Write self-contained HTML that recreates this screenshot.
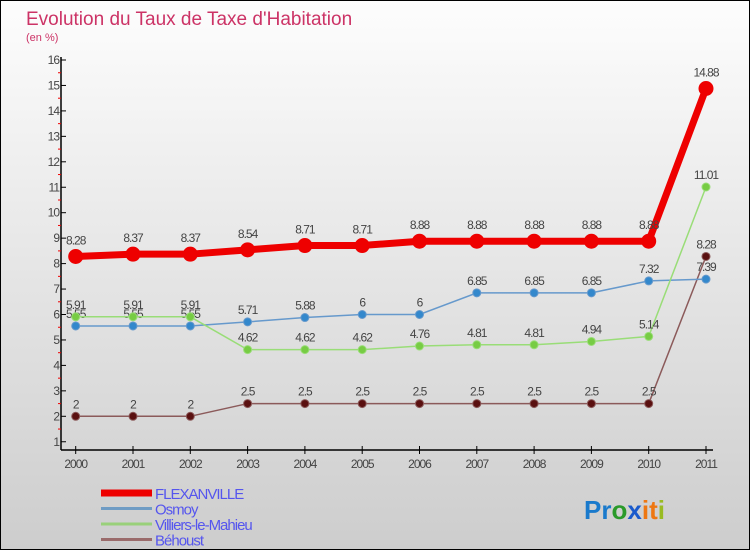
<!DOCTYPE html>
<html><head><meta charset="utf-8"><style>
body{margin:0}
#c{width:748px;height:548px;border:1px solid #000;background:linear-gradient(#fdfdfd,#cdcdcd);position:relative;font-family:"Liberation Sans",sans-serif;overflow:hidden}
</style></head><body>
<div id="c">
<svg id="s" width="748" height="548" xmlns="http://www.w3.org/2000/svg"></svg>
</div>
<script>
const years=["2000","2001","2002","2003","2004","2005","2006","2007","2008","2009","2010","2011"];
const flex=[8.28,8.37,8.37,8.54,8.71,8.71,8.88,8.88,8.88,8.88,8.88,14.88];
const osmoy=[5.55,5.55,5.55,5.71,5.88,6,6,6.85,6.85,6.85,7.32,7.39];
const villiers=[5.91,5.91,5.91,4.62,4.62,4.62,4.76,4.81,4.81,4.94,5.14,11.01];
const behoust=[2,2,2,2.5,2.5,2.5,2.5,2.5,2.5,2.5,2.5,8.28];
const yTicks=[1,2,3,4,5,6,7,8,9,10,11,12,13,14,15,16];
const s=document.getElementById('s');
const NS='http://www.w3.org/2000/svg';
function X(i){return 74.7+i*57.3;}
function Y(v){return 59+(16-v)*25.45;}
function mk(t,a,name,txt,parent){const e=document.createElementNS(NS,t);for(const k in a)e.setAttribute(k,a[k]);


if(txt!==undefined)e.textContent=txt;(parent||s).appendChild(e);return e;}
mk('text',{x:25,y:24,fill:'#cc3366','font-size':19},'chart-title','Evolution du Taux de Taxe d\'Habitation');
mk('text',{x:25,y:40,fill:'#cc3366','font-size':11},'y-axis-unit','(en %)');
mk('line',{x1:60,y1:56,x2:60,y2:449,stroke:'#000','stroke-width':1.5},'y-axis');
mk('line',{x1:60,y1:449,x2:712,y2:449,stroke:'#000','stroke-width':1.5},'x-axis');
yTicks.forEach(v=>{const y=Y(v);
mk('line',{x1:60,y1:y,x2:65,y2:y,stroke:'#000'},'y-tick');
mk('text',{x:58,y:y+4,'text-anchor':'end','font-size':12,fill:'#444','letter-spacing':'-1'},'y-tick-label',String(v));
if(v<16)mk('line',{x1:57,y1:y-12.7,x2:60,y2:y-12.7,stroke:'#e00'},'y-minor-tick');});
years.forEach((yr,i)=>{mk('line',{x1:X(i),y1:445,x2:X(i),y2:453,stroke:'#000'},'x-tick');
mk('text',{x:X(i),y:467,'text-anchor':'middle','font-size':12,fill:'#444','letter-spacing':'-1'},'x-tick-label',yr);});
function series(d,col,w,r,name,dy,mcol){
mk('polyline',{points:d.map((v,i)=>X(i)+','+Y(v)).join(' '),fill:'none',stroke:col,'stroke-width':w},name+'-line');
d.forEach((v,i)=>{mk('circle',{cx:X(i),cy:Y(v),r:r,fill:mcol,stroke:col,'stroke-width':1},name+'-point');
mk('text',{x:X(i),y:Y(v)+dy,'text-anchor':'middle','font-size':12,fill:'#444','letter-spacing':'-1'},name+'-value',String(v));});}
series(behoust,'#8b5a5a',1.5,4,'behoust',-8,'#5a1010');
series(osmoy,'#6699cc',1.5,4,'osmoy',-8,'#3388cc');
series(villiers,'#99dd77',1.5,4,'villiers',-8,'#77cc44');
series(flex,'#ee0000',7,7,'flexanville',-12,'#ee0000');
const leg=[["FLEXANVILLE","#ee0000",7],["Osmoy","#6f9cc4",3],["Villiers-le-Mahieu","#99d07a",3],["Béhoust","#9a6b6b",3]];
leg.forEach((l,i)=>{const y=492+i*15.5;
mk('line',{x1:100,y1:y,x2:151,y2:y,stroke:l[1],'stroke-width':l[2]},'legend-swatch');
mk('text',{x:154,y:y+6,'font-size':15,fill:'#5555ee','letter-spacing':'-1'},'legend-label',l[0]);});
const logo=mk('text',{x:583,y:518,'font-size':26,'font-weight':'bold'},'logo');
[["Pr","#1a7acc"],["o","#2a9a2a"],["x","#1a5acc"],["i","#ee7711"],["t","#ee7711"],["i","#99bb22"]].forEach(c=>{
mk('tspan',{fill:c[1]},'logo-part',c[0],logo);});
</script>
</body></html>
